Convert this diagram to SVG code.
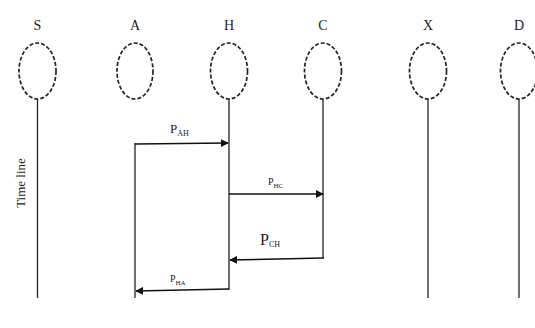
<svg xmlns="http://www.w3.org/2000/svg" width="535" height="328" viewBox="0 0 535 328">
<style>
.lbl{font-family:"Liberation Serif",serif;font-size:14px;fill:#222;text-anchor:middle}
.node{fill:none;stroke:#222;stroke-width:1.7;stroke-dasharray:4 2}
.life{stroke:#222;stroke-width:1.3;fill:none}
.msg{stroke:#111;stroke-width:1.6;fill:none;marker-end:url(#ah)}
.p{font-family:"Liberation Serif",serif;fill:#222}
</style>
<defs>
<marker id="ah" viewBox="0 0 10 10" refX="9" refY="5" markerWidth="8" markerHeight="8" markerUnits="userSpaceOnUse" orient="auto">
<path d="M0,0 L10,5 L0,10 z" fill="#111"/>
</marker>
</defs>
<rect width="535" height="328" fill="#fff"/>
<g id="node-S"><text class="lbl" x="37.5" y="30">S</text><ellipse class="node" cx="37.5" cy="71" rx="18.5" ry="28"/></g>
<g id="node-A"><text class="lbl" x="135" y="30">A</text><ellipse class="node" cx="135" cy="71" rx="18" ry="28"/></g>
<g id="node-H"><text class="lbl" x="229" y="30">H</text><ellipse class="node" cx="229" cy="71" rx="18.5" ry="28"/></g>
<g id="node-C"><text class="lbl" x="323" y="30">C</text><ellipse class="node" cx="323" cy="71" rx="18.5" ry="28"/></g>
<g id="node-X"><text class="lbl" x="428" y="30">X</text><ellipse class="node" cx="428" cy="71" rx="18.5" ry="28"/></g>
<g id="node-D"><text class="lbl" x="519" y="30">D</text><ellipse class="node" cx="519" cy="71" rx="18.5" ry="28"/></g>
<g id="timeline"><text class="p" font-size="13" text-anchor="middle" transform="translate(25,183) rotate(-90)">Time line</text></g>
<g id="connectors">
<line class="life" x1="37.5" y1="99" x2="37.5" y2="298"/>
<line class="life" x1="135" y1="143" x2="135" y2="298"/>
<line class="life" x1="229" y1="99" x2="229" y2="290"/>
<line class="life" x1="323" y1="99" x2="323" y2="258"/>
<line class="life" x1="428" y1="99" x2="428" y2="298"/>
<line class="life" x1="519" y1="99" x2="519" y2="298"/>
<line class="msg" x1="135" y1="144" x2="228" y2="143"/>
<line class="msg" x1="229" y1="194" x2="323" y2="194"/>
<line class="msg" x1="324" y1="258" x2="230" y2="260"/>
<line class="msg" x1="229" y1="289" x2="136" y2="291"/>
</g>
<g id="labels">
<text class="p" x="170" y="133" font-size="13">P<tspan font-size="8" dy="3">AH</tspan></text>
<text class="p" x="268" y="185" font-size="10">P<tspan font-size="7" dy="3">HC</tspan></text>
<text class="p" x="260" y="245" font-size="16">P<tspan font-size="8" dy="2">CH</tspan></text>
<text class="p" x="170" y="282" font-size="10">P<tspan font-size="7" dy="3">HA</tspan></text>
</g>
</svg>
